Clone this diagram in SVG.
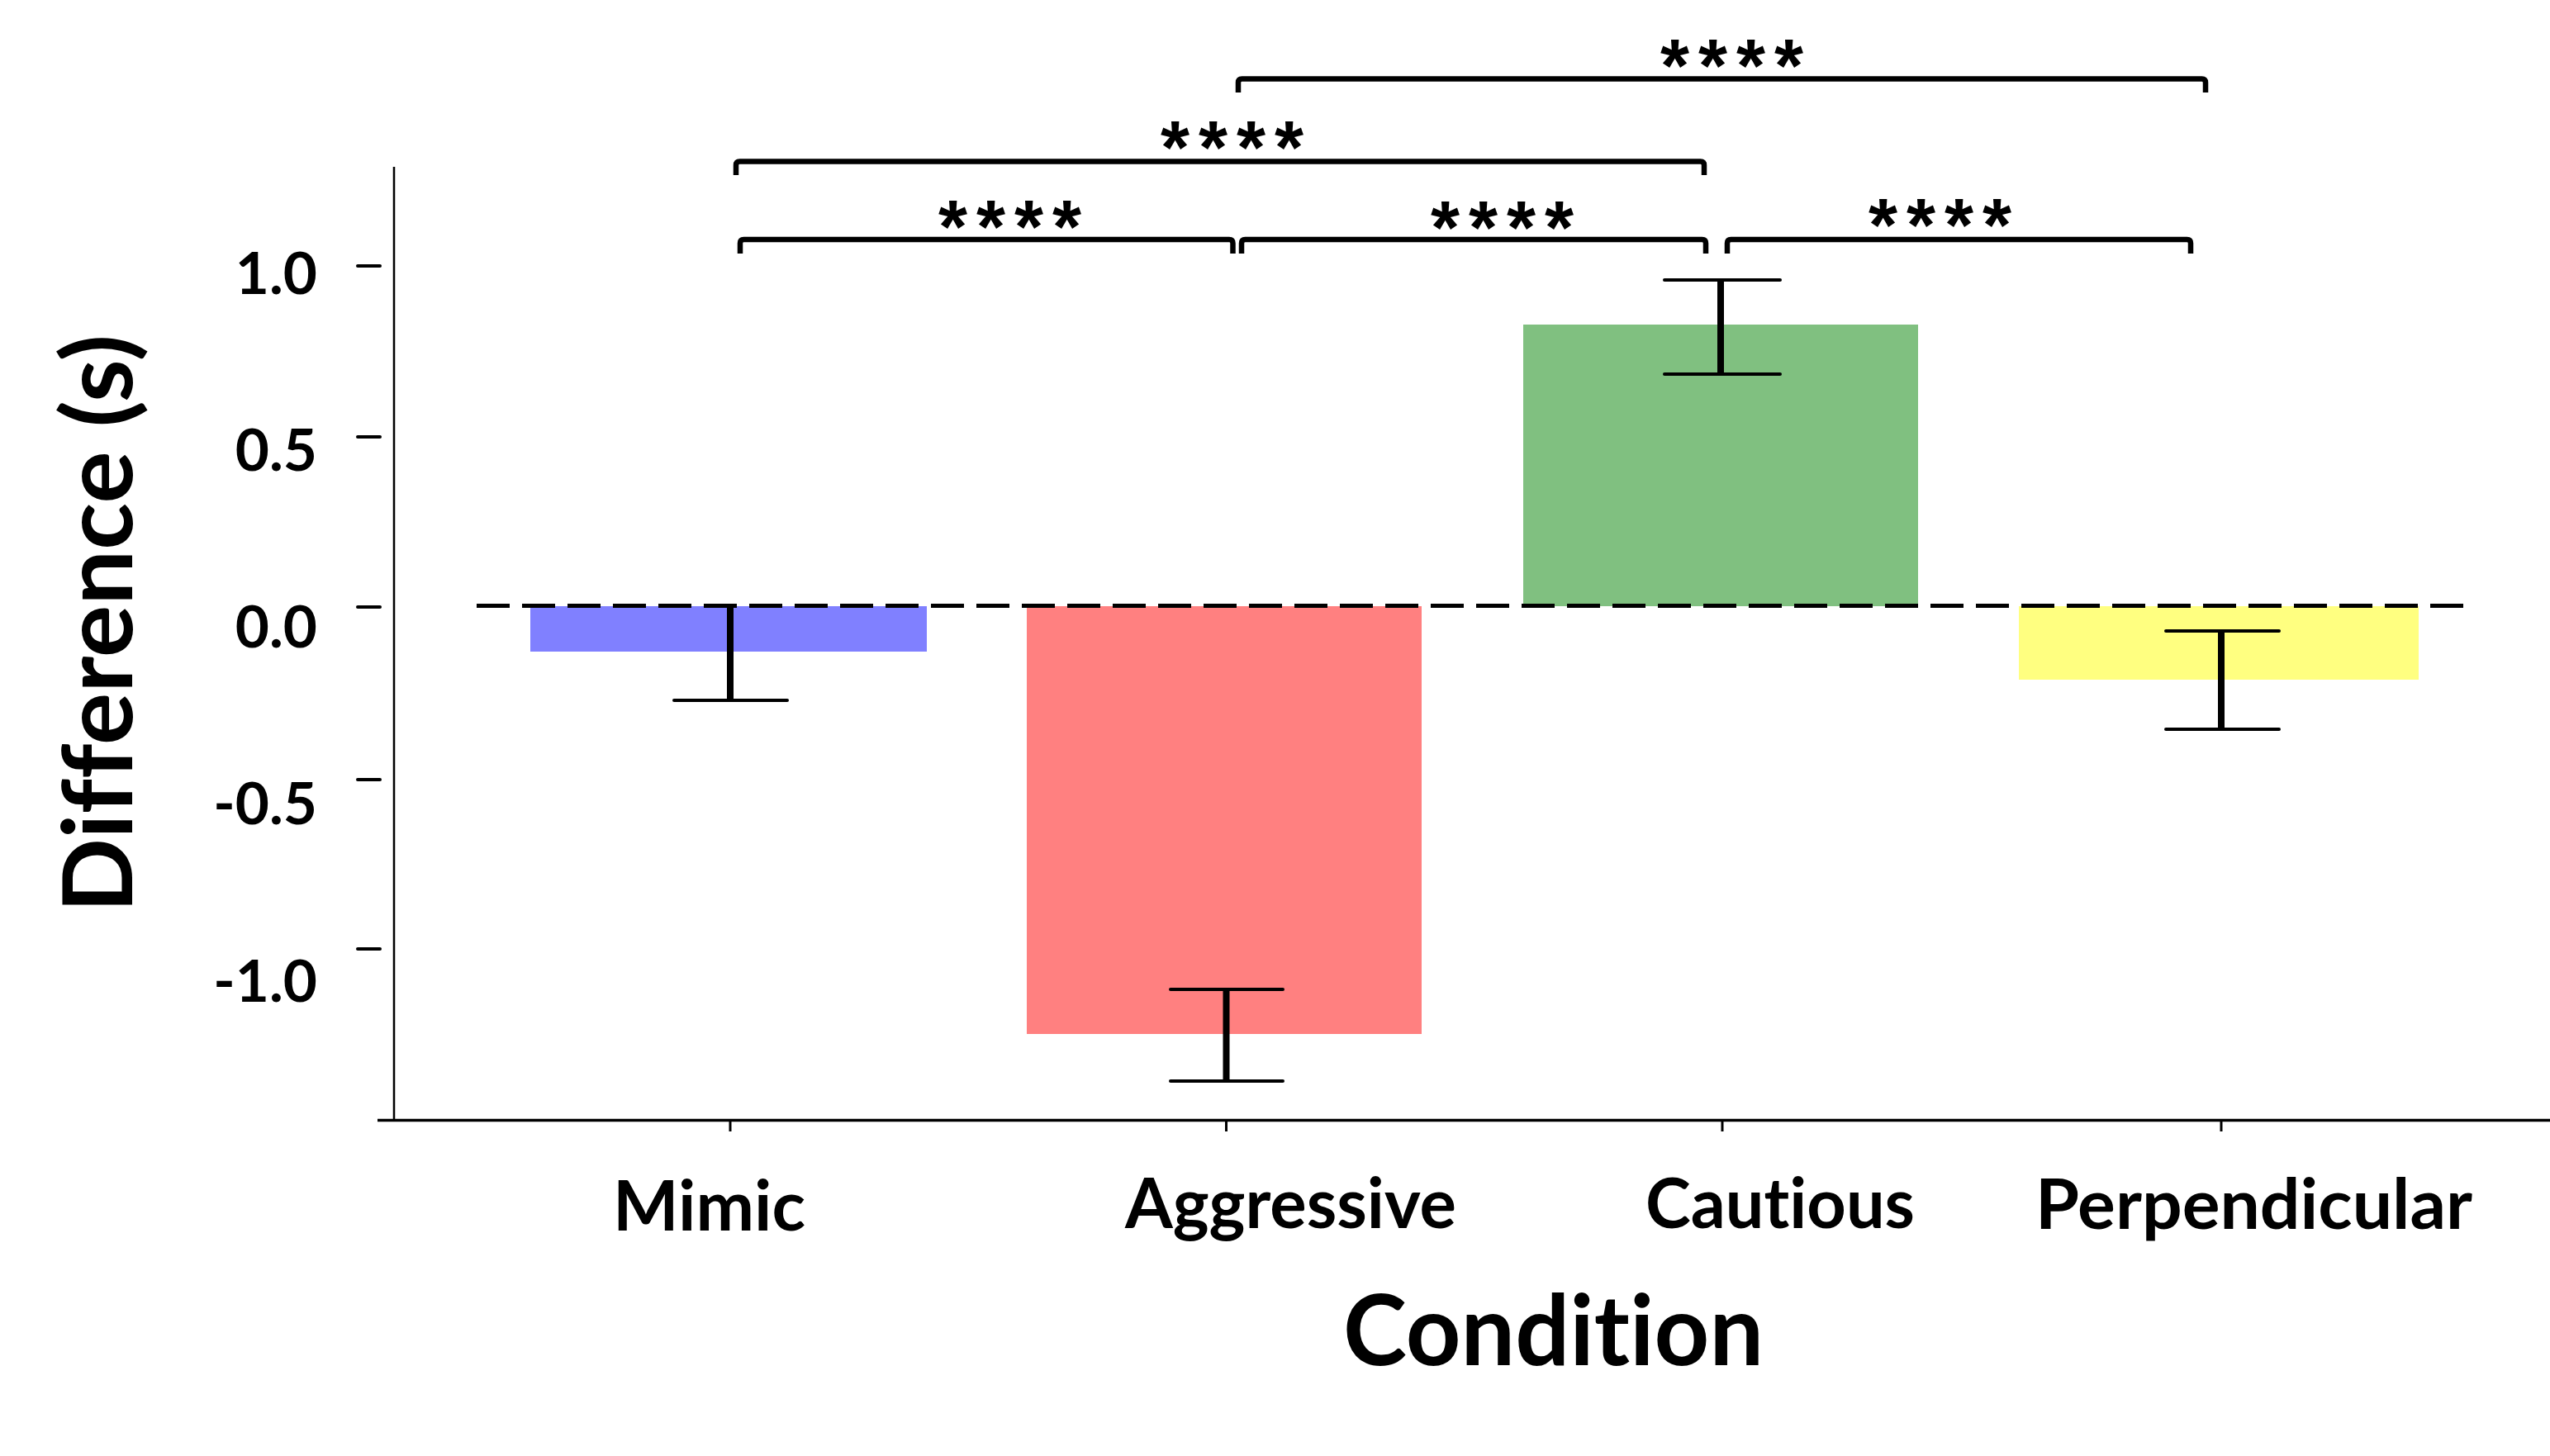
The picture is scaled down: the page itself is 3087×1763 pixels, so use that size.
<svg xmlns="http://www.w3.org/2000/svg" width="3087" height="1763" viewBox="0 0 3087 1763">
<style>
.lbl{font-family:Lato,"Liberation Sans",sans-serif;font-weight:bold;fill:#000;font-variant-ligatures:none;font-feature-settings:"liga" 0}
.tick{font-size:71px;text-anchor:end}
.cat{font-size:84px}
.star{font-family:"Liberation Sans",Arial,sans-serif;font-weight:bold;font-size:90px;letter-spacing:11px;text-anchor:middle;fill:#000}
.br{fill:none;stroke:#000;stroke-width:6.5;stroke-linejoin:round}
.eb{stroke:#000;stroke-width:8}
.cap{stroke:#000;stroke-width:4;stroke-linecap:round}
.ax{stroke:#000;fill:none}
</style>
<rect width="3087" height="1763" fill="#fff"/>
<g id="axes">
<line class="ax" x1="477" y1="202" x2="477" y2="1357" stroke-width="2.5"/>
<line class="ax" x1="457" y1="1356.5" x2="3087" y2="1356.5" stroke-width="3.5"/>
<g stroke="#000" stroke-width="4" stroke-linecap="round">
<line x1="433" y1="322" x2="460" y2="322"/>
<line x1="433" y1="529" x2="460" y2="529"/>
<line x1="433" y1="735" x2="460" y2="735"/>
<line x1="433" y1="944" x2="460" y2="944"/>
<line x1="433" y1="1149" x2="460" y2="1149"/>
</g>
<g stroke="#000" stroke-width="3">
<line x1="884" y1="1356" x2="884" y2="1370"/>
<line x1="1484.5" y1="1356" x2="1484.5" y2="1370"/>
<line x1="2085" y1="1356" x2="2085" y2="1370"/>
<line x1="2689" y1="1356" x2="2689" y2="1370"/>
</g>
<text class="lbl tick" x="384" y="356">1.0</text>
<text class="lbl tick" x="384" y="570">0.5</text>
<text class="lbl tick" x="384" y="784">0.0</text>
<text class="lbl tick" x="384" y="998">-0.5</text>
<text class="lbl tick" x="384" y="1213">-1.0</text>
<text class="lbl" font-size="116" text-anchor="middle" transform="translate(160,755) rotate(-90)" textLength="700" lengthAdjust="spacingAndGlyphs">Difference (s)</text>
<text class="lbl" font-size="119" x="1626" y="1653" textLength="509" lengthAdjust="spacingAndGlyphs">Condition</text>
</g>
<g id="bar-mimic">
<rect x="642" y="734" width="480" height="55" fill="#8080FF"/>
<text class="lbl cat" x="742" y="1490" textLength="233" lengthAdjust="spacingAndGlyphs">Mimic</text>
</g>
<g id="bar-aggressive">
<rect x="1243" y="734" width="478" height="518" fill="#FF8080"/>
<text class="lbl cat" x="1362" y="1487" textLength="401" lengthAdjust="spacingAndGlyphs">Aggressive</text>
</g>
<g id="bar-cautious">
<rect x="1844" y="393" width="478" height="341" fill="#80C080"/>
<text class="lbl cat" x="1992" y="1487" textLength="326" lengthAdjust="spacingAndGlyphs">Cautious</text>
</g>
<g id="bar-perpendicular">
<rect x="2444" y="734" width="484" height="89" fill="#FFFF80"/>
<text class="lbl cat" x="2464" y="1488" textLength="529" lengthAdjust="spacingAndGlyphs">Perpendicular</text>
</g>
<g id="zero-line">
<line x1="577" y1="733.5" x2="2989" y2="733.5" stroke="#000" stroke-width="5" stroke-dasharray="40 15"/>
</g>
<g id="error-bars">
<line class="eb" x1="884" y1="735" x2="884" y2="848"/>
<line class="cap" x1="816" y1="848" x2="953" y2="848"/>
<line class="eb" x1="1484.5" y1="1198" x2="1484.5" y2="1309"/>
<line class="cap" x1="1417" y1="1198" x2="1553" y2="1198"/>
<line class="cap" x1="1417" y1="1309" x2="1553" y2="1309"/>
<line class="eb" x1="2083" y1="339" x2="2083" y2="453"/>
<line class="cap" x1="2015" y1="339" x2="2155" y2="339"/>
<line class="cap" x1="2015" y1="453" x2="2155" y2="453"/>
<line class="eb" x1="2689" y1="764" x2="2689" y2="883"/>
<line class="cap" x1="2622" y1="764" x2="2759" y2="764"/>
<line class="cap" x1="2622" y1="883" x2="2759" y2="883"/>
</g>
<g id="connectors">
<path class="br" d="M1499,112 V100 Q1499,95.5 1503.5,95.5 H2665.5 Q2670,95.5 2670,100 V112"/>
<path class="br" d="M891,212 V200 Q891,195.5 895.5,195.5 H2058.5 Q2063,195.5 2063,200 V212"/>
<path class="br" d="M896,307 V294.5 Q896,290 900.5,290 H1488 Q1492.5,290 1492.5,294.5 V307"/>
<path class="br" d="M1503,307 V294.5 Q1503,290 1507.5,290 H2060.5 Q2065,290 2065,294.5 V307"/>
<path class="br" d="M2091,307 V294.5 Q2091,290 2095.5,290 H2647.5 Q2652,290 2652,294.5 V307"/>
<text class="star" x="2102" y="111">****</text>
<text class="star" x="1497" y="210">****</text>
<text class="star" x="1228" y="306">****</text>
<text class="star" x="1824" y="307">****</text>
<text class="star" x="2354" y="304">****</text>
</g>
</svg>
